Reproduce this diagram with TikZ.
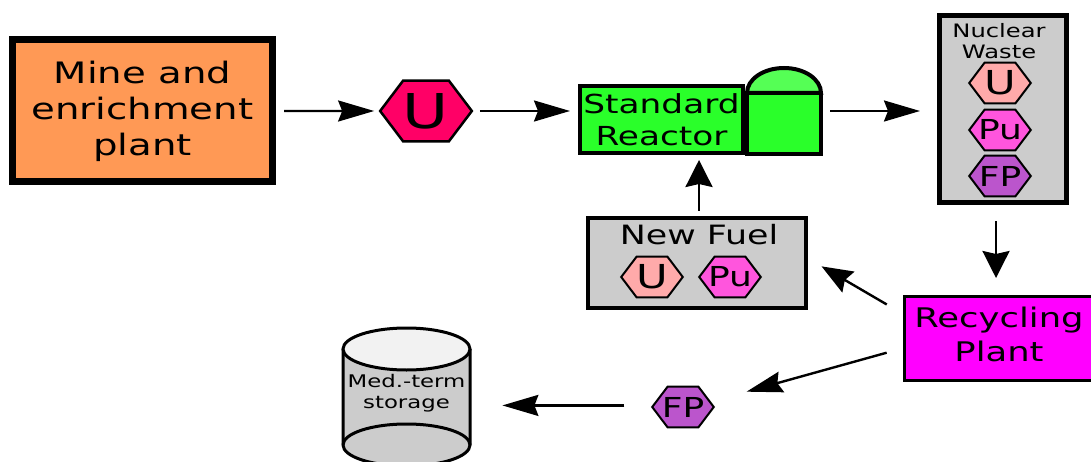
\documentclass[tikz,border=0pt]{standalone}
\usepackage{fontspec}
\setmainfont[FakeStretch=1.31]{DejaVu Sans}
\newfontfamily\hexfont{DejaVu Sans}
\usepackage{tikz}
\usetikzlibrary{shapes.geometric,arrows.meta}

\definecolor{minecol}{HTML}{FF9955}
\definecolor{reactorcol}{HTML}{2AFF2A}
\definecolor{domecol}{HTML}{55FF55}
\definecolor{greycol}{HTML}{CCCCCC}
\definecolor{ucol}{HTML}{FF0066}
\definecolor{usmallcol}{HTML}{FFAAAA}
\definecolor{pucol}{HTML}{FF55DD}
\definecolor{fpcol}{HTML}{BB55CC}
\definecolor{recyclecol}{HTML}{FF00FF}

\begin{document}
\begin{tikzpicture}
      [x=1pt,y=-1pt,
      every node/.style={align=center,inner sep=0pt,outer sep=0pt},
      box/.style={shape=rectangle,draw,fill=greycol,line width=4pt},
      hex/.style={regular polygon,regular polygon sides=6,xscale=1.31,draw,line width=2pt,inner sep=-8pt,
        minimum size=47pt,font=\hexfont\fontsize{27.5}{30}\selectfont},
      flow/.style={-{Stealth[length=36pt,width=21pt,inset=4pt]},line width=2.4pt},
      riseflow/.style={-{Stealth[length=27pt,width=27pt,inset=3pt]},line width=2.6pt},
      slantflow/.style={-{Stealth[length=31pt,width=24pt,inset=4pt]},line width=2.4pt}]
\clip (0,0) rectangle (1091,462);
\node[box,fill=minecol,line width=7pt,minimum width=260pt,minimum height=142pt,
      font=\fontsize{29.5}{36}\selectfont] (mine) at (142.5,111) {Mine and\\enrichment\\plant};
\node[hex,fill=ucol,line width=2.5pt,minimum size=70pt,font=\hexfont\fontsize{48}{48}\selectfont] (uranium) at (426,111) {U};
% reactor
\draw[fill=domecol,line width=4pt] (747,93) arc[start angle=180,end angle=0,x radius=37pt,y radius=25pt] -- cycle;
\node[box,fill=reactorcol,minimum width=74pt,minimum height=61pt] (vessel) at (784,123.5) {};
\node[box,fill=reactorcol,minimum width=163pt,minimum height=67pt,
      font=\fontsize{26.2}{32}\selectfont] (reactor) at (661.5,119.5) {Standard\\Reactor};
% waste
\node[box,line width=5pt,minimum width=127pt,minimum height=187pt] (waste) at (1003,109) {};
\node[font=\fontsize{18.5}{21}\selectfont] (wastetext) at (999,41) {Nuclear\\Waste};
\node[hex,fill=usmallcol,font=\hexfont\fontsize{33}{33}\selectfont] (wasteu) at (1000,83) {U};
\node[hex,fill=pucol] (wastepu) at (1000,130) {Pu};
\node[hex,fill=fpcol] (wastefp) at (1000,176) {FP};
% new fuel
\node[box,minimum width=218pt,minimum height=90pt] (fuel) at (697,263) {};
\node[font=\fontsize{26.6}{30}\selectfont] (fueltext) at (699,235) {New Fuel};
\node[hex,fill=usmallcol,font=\hexfont\fontsize{33}{33}\selectfont] (fuelu) at (652,277) {U};
\node[hex,fill=pucol] (fuelpu) at (730,277) {Pu};
% recycling
\node[box,fill=recyclecol,line width=3pt,minimum width=188pt,minimum height=84pt] (recycling) at (998,338) {};
\node[font=\fontsize{27}{34}\selectfont] (recyclingtext) at (999,334) {Recycling\\Plant};
\node[hex,fill=fpcol] (fp) at (683,407) {FP};
% storage
\draw[fill=greycol,line width=3pt] (343,349) -- (343,445) arc[start angle=180,end angle=360,x radius=63.5pt,y radius=21pt] -- (470,349);
\draw[line width=3pt] (343,445) arc[start angle=180,end angle=0,x radius=63.5pt,y radius=21pt];
\draw[fill=black!5,line width=3pt] (406.5,349) ellipse[x radius=63.5pt,y radius=21pt];
\node[font=\fontsize{17.4}{21}\selectfont] (storage) at (406.5,393) {Med.-term\\storage};
% arrows
\draw[flow,shorten <=11.5pt,shorten >=6pt] (mine.east) -- (uranium.west);
\draw[flow,shorten <=8pt,shorten >=10pt] (uranium.east) -- (reactor.west |- uranium.east);
\draw[flow,shorten <=9pt,shorten >=19.5pt] (vessel.east |- uranium.east) -- (waste.west |- uranium.east);
\draw[riseflow,shorten <=7pt,shorten >=7pt] (fuel.north -| 699,0) -- (reactor.south -| 699,0);
\draw[riseflow,shorten <=19pt,shorten >=18pt] (waste.south -| 996,0) -- (recycling.north -| 996,0);
\draw[slantflow,shorten <=20pt,shorten >=18pt] (recycling.166) -- (fuel.3);
\draw[flow,shorten <=18pt,shorten >=38pt] (recycling.186) -- (fp.14);
\draw[flow,shorten <=29pt,shorten >=37pt] (fp.176) -- (storage.east |- fp.176);
\end{tikzpicture}
\end{document}
